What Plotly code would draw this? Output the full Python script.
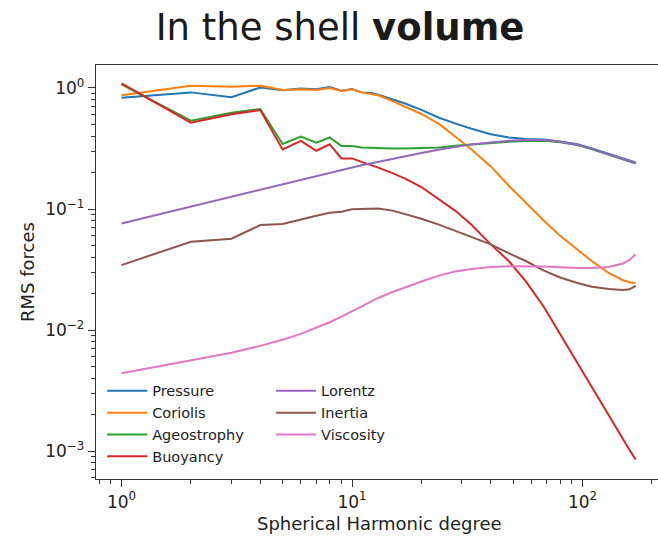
import plotly.graph_objects as go

# ---- data ----
degree = [1, 2, 3, 4, 5, 6, 7, 8, 9, 10, 11, 12, 13, 15, 17, 20, 24, 28, 33, 40,
          48, 57, 68, 80, 95, 110, 130, 150, 160, 170]

pressure = [0.83, 0.92, 0.84, 1.01, 0.96, 0.99, 0.975, 1.02, 0.95, 0.98, 0.92, 0.915,
            0.88, 0.81, 0.745, 0.66, 0.565, 0.51, 0.46, 0.415, 0.39, 0.378, 0.375,
            0.362, 0.343, 0.317, 0.287, 0.263, 0.252, 0.242]
coriolis = [0.87, 1.045, 1.025, 1.045, 0.963, 0.975, 0.963, 1.0, 0.945, 0.975, 0.92,
            0.90, 0.87, 0.78, 0.70, 0.61, 0.50, 0.40, 0.31, 0.225, 0.155, 0.112,
            0.08, 0.060, 0.046, 0.037, 0.0295, 0.0258, 0.0248, 0.0243]
ageostrophy = [1.07, 0.537, 0.625, 0.67, 0.345, 0.396, 0.353, 0.39, 0.331, 0.331,
               0.323, 0.32, 0.318, 0.316, 0.316, 0.318, 0.323, 0.333, 0.342, 0.35,
               0.36, 0.365, 0.366, 0.356, 0.338, 0.311, 0.282, 0.258, 0.248, 0.238]
buoyancy = [1.09, 0.517, 0.606, 0.658, 0.311, 0.365, 0.303, 0.343, 0.262, 0.262,
            0.245, 0.232, 0.22, 0.198, 0.178, 0.152, 0.12, 0.097, 0.074, 0.051,
            0.037, 0.025, 0.0155, 0.0092, 0.0053, 0.0033, 0.00195, 0.00125, 0.00102,
            0.00085]
lorentz = [0.076, 0.105, 0.127, 0.145, 0.161, 0.175, 0.187, 0.2, 0.211, 0.22, 0.23,
           0.238, 0.246, 0.26, 0.272, 0.29, 0.31, 0.326, 0.342, 0.355, 0.366, 0.371,
           0.371, 0.359, 0.34, 0.314, 0.284, 0.26, 0.25, 0.24]
inertia = [0.0344, 0.0537, 0.0568, 0.0737, 0.0752, 0.0825, 0.088, 0.093, 0.095,
           0.0994, 0.1, 0.101, 0.101, 0.097, 0.091, 0.083, 0.074, 0.066, 0.059,
           0.051, 0.043, 0.037, 0.031, 0.0272, 0.0245, 0.0228, 0.0218, 0.0214,
           0.0217, 0.0232]
viscosity = [0.0044, 0.0056, 0.0065, 0.0074, 0.0083, 0.0093, 0.0104, 0.0116, 0.0129,
             0.0143, 0.0157, 0.0171, 0.0184, 0.0206, 0.0226, 0.0252, 0.0283, 0.0305,
             0.032, 0.0332, 0.0337, 0.0338, 0.0335, 0.033, 0.0325, 0.0326, 0.0332,
             0.0355, 0.038, 0.0424]

series_names = ["Pressure", "Coriolis", "Ageostrophy", "Buoyancy",
                "Lorentz", "Inertia", "Viscosity"]
series_values = [pressure, coriolis, ageostrophy, buoyancy, lorentz, inertia, viscosity]
series_colors = ["#1f77b4", "#ff7f0e", "#2ca02c", "#d62728",
                 "#9467bd", "#8c564b", "#e377c2"]
series_legend = ["legend", "legend", "legend", "legend",
                 "legend2", "legend2", "legend2"]

x_tick_vals = [1, 10, 100]
x_tick_text = ["10<sup>0</sup>", "10<sup>1</sup>", "10<sup>2</sup>"]
x_minor_vals = [0.8, 0.9, 2, 3, 4, 5, 6, 7, 8, 9, 20, 30, 40, 50, 60, 70, 80, 90, 200]
y_tick_vals = [1, 0.1, 0.01, 0.001]
y_tick_text = ["10<sup>0</sup>", "10<sup>\u22121</sup>", "10<sup>\u22122</sup>",
               "10<sup>\u22123</sup>"]
y_minor_vals = [m * d for d in (0.0001, 0.001, 0.01, 0.1, 1) for m in range(2, 10)]

FONT = "DejaVu Sans"
AX = "#333333"

fig = go.Figure()
for name, vals, col, lg in zip(series_names, series_values, series_colors, series_legend):
    fig.add_trace(go.Scatter(x=degree, y=vals, mode="lines", name=name,
                             line=dict(color=col, width=2), legend=lg))

axis_common = dict(type="log", showline=True, linecolor=AX, linewidth=1.3,
                   ticks="outside", ticklen=7, tickwidth=1.2, tickcolor=AX,
                   showgrid=False, zeroline=False,
                   tickfont=dict(family=FONT, size=17, color="#222"))

legend_common = dict(xanchor="left", yanchor="top", bgcolor="rgba(0,0,0,0)",
                     tracegroupgap=0, itemwidth=40,
                     font=dict(family=FONT, size=14.5, color="#222"))

fig.update_layout(
    width=658, height=541,
    margin=dict(l=96, r=0, t=65, b=62),
    paper_bgcolor="white", plot_bgcolor="white",
    title=dict(text="In the shell <b>volume</b>", x=340 / 658, xanchor="center",
               y=1 - 27 / 541, yanchor="middle", yref="container",
               font=dict(family=FONT, size=37, color="#1a1a1a")),
    xaxis=dict(range=[-0.1106, 2.3275], mirror=True,
               tickvals=x_tick_vals, ticktext=x_tick_text,
               minor=dict(tickvals=x_minor_vals, ticks="outside", ticklen=4,
                          tickwidth=1, tickcolor=AX, showgrid=False),
               **axis_common),
    yaxis=dict(range=[-3.231, 0.190], mirror=False,
               tickvals=y_tick_vals, ticktext=y_tick_text,
               minor=dict(tickvals=y_minor_vals, ticks="outside", ticklen=4,
                          tickwidth=1, tickcolor=AX, showgrid=False),
               **axis_common),
    legend=dict(x=0.011, y=0.2515, **legend_common),
    legend2=dict(x=0.3115, y=0.2515, **legend_common),
    annotations=[
        dict(text="Spherical Harmonic degree", xref="paper", yref="paper",
             x=(379.5 - 96) / 562, y=(479 - 523) / 414, xanchor="center",
             yanchor="middle", showarrow=False,
             font=dict(family=FONT, size=18, color="#222")),
        dict(text="RMS forces", xref="paper", yref="paper",
             x=(27 - 96) / 562, y=0.5, xanchor="center", yanchor="middle",
             textangle=-90, showarrow=False,
             font=dict(family=FONT, size=18, color="#222")),
    ],
)

fig.write_html("out.html")
